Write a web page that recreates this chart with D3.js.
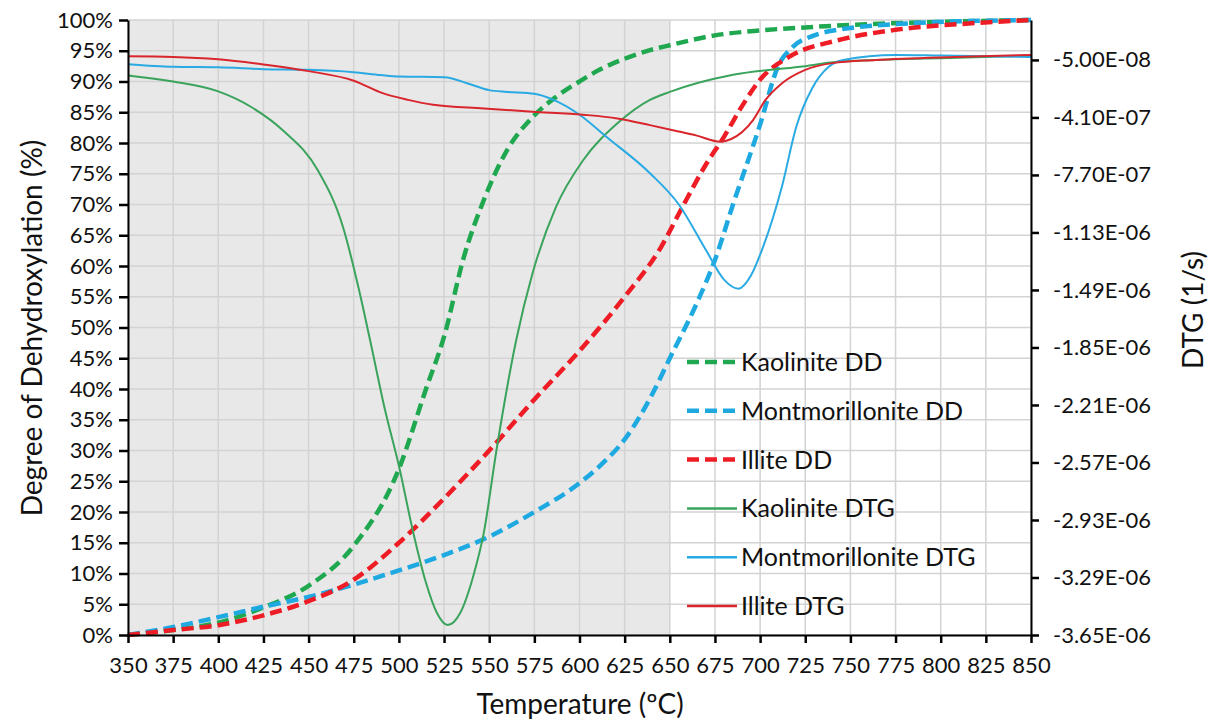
<!DOCTYPE html>
<html>
<head>
<meta charset="utf-8">
<script src="https://cdn.jsdelivr.net/npm/d3@7"></script>
<style>
  body { margin: 0; background: #fff; }
  text { font-family: Lato, "Open Sans", sans-serif; fill: #111; }
</style>
</head>
<body>
<div id="chart"></div>
<script>
// degree of dehydroxylation, fraction 0..1, [temperature, value]
const kaoliniteDD = [[350,0],[375,0.008],[400,0.02],[425,0.045],[450,0.08],[475,0.145],[500,0.27],[515,0.40],[525,0.485],[536,0.615],[547,0.707],[560,0.789],[574,0.842],[587,0.875],[600,0.90],[611,0.919],[625,0.937],[639,0.951],[650,0.959],[675,0.975],[700,0.983],[725,0.988],[750,0.992],[800,0.997],[850,1.0]];
const montDD = [[350,0],[375,0.013],[400,0.029],[425,0.046],[450,0.062],[475,0.082],[500,0.105],[525,0.13],[550,0.16],[575,0.20],[600,0.247],[612,0.277],[625,0.318],[640,0.39],[650,0.45],[665,0.54],[675,0.61],[685,0.70],[700,0.83],[710,0.925],[718,0.956],[730,0.975],[743,0.984],[786,0.995],[850,1.0]];
const illiteDD = [[350,0],[375,0.008],[400,0.016],[425,0.032],[450,0.055],[475,0.09],[500,0.15],[525,0.222],[550,0.30],[575,0.383],[600,0.462],[625,0.55],[645,0.63],[657,0.696],[670,0.765],[680,0.81],[690,0.86],[700,0.903],[716,0.94],[743,0.967],[775,0.984],[819,0.995],[850,1.0]];

// DTG in units of 1e-6 1/s
const kaoliniteDTG = [[350,-0.147],[375,-0.185],[400,-0.247],[418,-0.343],[436,-0.493],[455,-0.739],[469,-1.094],[478,-1.494],[484,-1.802],[492,-2.226],[500,-2.591],[508,-3.011],[515,-3.323],[521,-3.511],[527,-3.588],[534,-3.511],[541,-3.288],[547,-3.011],[554,-2.495],[565,-1.802],[574,-1.386],[587,-0.970],[602,-0.678],[621,-0.447],[639,-0.300],[650,-0.250],[685,-0.143],[722,-0.093],[743,-0.062],[775,-0.046],[800,-0.039],[850,-0.023]];
const montDTG = [[350,-0.077],[375,-0.093],[400,-0.096],[425,-0.108],[450,-0.112],[475,-0.127],[490,-0.145],[500,-0.154],[525,-0.158],[540,-0.204],[550,-0.239],[560,-0.250],[575,-0.262],[585,-0.297],[600,-0.393],[615,-0.532],[639,-0.759],[655,-0.955],[670,-1.240],[680,-1.425],[688,-1.482],[695,-1.398],[701,-1.240],[712,-0.847],[720,-0.470],[729,-0.224],[738,-0.093],[746,-0.050],[775,-0.019],[800,-0.023],[850,-0.031]];
const illiteDTG = [[350,-0.027],[375,-0.031],[400,-0.046],[425,-0.078],[450,-0.120],[475,-0.180],[491,-0.258],[505,-0.300],[519,-0.331],[547,-0.354],[574,-0.374],[602,-0.393],[621,-0.416],[639,-0.458],[653,-0.493],[665,-0.524],[678,-0.562],[684,-0.545],[696,-0.428],[703,-0.300],[712,-0.197],[725,-0.112],[740,-0.070],[764,-0.050],[808,-0.031],[850,-0.019]];

const xTicks = d3.range(350, 851, 25);
const leftTicks = d3.range(0, 1.0001, 0.05);
const rightTicks = d3.range(11).map(function(k) { return -3.65 + k * 0.36; });

const series = [
  { name: "Kaolinite DD", data: kaoliniteDD, axis: "L", color: "#1fa84f", dashed: true },
  { name: "Montmorillonite DD", data: montDD, axis: "L", color: "#1ea9e1", dashed: true },
  { name: "Illite DD", data: illiteDD, axis: "L", color: "#ee1c25", dashed: true },
  { name: "Kaolinite DTG", data: kaoliniteDTG, axis: "R", color: "#3aa35c", dashed: false },
  { name: "Montmorillonite DTG", data: montDTG, axis: "R", color: "#2aaae2", dashed: false },
  { name: "Illite DTG", data: illiteDTG, axis: "R", color: "#d9252c", dashed: false }
];

const width = 1217, height = 723;
const margin = { top: 20, right: 186, bottom: 88, left: 128 };

const svg = d3.select("#chart").append("svg")
  .attr("width", width)
  .attr("height", height);

const x = d3.scaleLinear().domain([350, 850]).range([margin.left, width - margin.right]);
const yL = d3.scaleLinear().domain([0, 1]).range([height - margin.bottom, margin.top]);
const yR = d3.scaleLinear().domain([-3.65, 0.2]).range([height - margin.bottom, margin.top]);

//gray shaded region 350-650
svg.append("rect")
  .attr("x", x(350))
  .attr("y", margin.top)
  .attr("width", x(650) - x(350))
  .attr("height", yL(0) - yL(1))
  .attr("fill", "#e8e8e8");

//grid
svg.append("g").selectAll("line")
  .data(xTicks)
  .enter().append("line")
  .attr("x1", function(d) { return x(d); })
  .attr("x2", function(d) { return x(d); })
  .attr("y1", yL(0))
  .attr("y2", yL(1))
  .attr("stroke", "#d3d3d3")
  .attr("stroke-width", 1.5);

svg.append("g").selectAll("line")
  .data(leftTicks)
  .enter().append("line")
  .attr("x1", x(350))
  .attr("x2", x(850))
  .attr("y1", function(d) { return yL(d); })
  .attr("y2", function(d) { return yL(d); })
  .attr("stroke", "#d3d3d3")
  .attr("stroke-width", 1.5);

//curves
series.forEach(function(s) {
  const yScale = s.axis === "L" ? yL : yR;
  const line = d3.line()
    .x(function(d) { return x(d[0]); })
    .y(function(d) { return yScale(d[1]); })
    .curve(d3.curveMonotoneX);
  svg.append("path")
    .datum(s.data)
    .attr("d", line)
    .attr("fill", "none")
    .attr("stroke", s.color)
    .attr("stroke-width", s.dashed ? 4.5 : 2)
    .attr("stroke-dasharray", s.dashed ? "12,6" : null);
});

//axes
function styleAxis(size) {
  return function(g) {
    g.select(".domain").attr("stroke", "#000").attr("stroke-width", 2);
    g.selectAll(".tick line").attr("stroke", "#000").attr("stroke-width", 2.5);
    g.selectAll(".tick text").style("font-size", size).attr("fill", "#111");
  };
}

svg.append("g")
  .attr("transform", "translate(0," + yL(0) + ")")
  .call(d3.axisBottom(x).tickValues(xTicks).tickSize(8).tickSizeOuter(0).tickPadding(14))
  .call(styleAxis("22px"));

svg.append("g")
  .attr("transform", "translate(" + x(350) + ",0)")
  .call(d3.axisLeft(yL).tickValues(leftTicks).tickSize(9).tickSizeOuter(0).tickPadding(6)
    .tickFormat(function(d) { return Math.round(d * 100) + "%"; }))
  .call(styleAxis("22px"));

function sciFormat(d) {
  const s = (d * 1e-6).toExponential(2).toUpperCase();
  return s.replace(/E([+-])(\d)$/, "E$10$2");
}

svg.append("g")
  .attr("transform", "translate(" + x(850) + ",0)")
  .call(d3.axisRight(yR).tickValues(rightTicks).tickSize(8).tickSizeOuter(0).tickPadding(14)
    .tickFormat(sciFormat))
  .call(styleAxis("22px"));

//axis titles
svg.append("text")
  .attr("x", 580)
  .attr("y", 714)
  .attr("text-anchor", "middle")
  .style("font-size", "28px")
  .text("Temperature (ºC)");

svg.append("text")
  .attr("transform", "rotate(-90)")
  .attr("x", -328)
  .attr("y", 42)
  .attr("text-anchor", "middle")
  .style("font-size", "28px")
  .text("Degree of Dehydroxylation (%)");

svg.append("text")
  .attr("transform", "rotate(-90)")
  .attr("x", -310)
  .attr("y", 1203)
  .attr("text-anchor", "middle")
  .style("font-size", "28px")
  .text("DTG (1/s)");

//legend
const legend = svg.append("g").attr("transform", "translate(687,362)");
series.forEach(function(s, i) {
  const row = legend.append("g").attr("transform", "translate(0," + (i * 48.8) + ")");
  row.append("line")
    .attr("x1", 0).attr("x2", 50)
    .attr("y1", 0).attr("y2", 0)
    .attr("stroke", s.color)
    .attr("stroke-width", s.dashed ? 4.5 : 2.5)
    .attr("stroke-dasharray", s.dashed ? "12,6" : null);
  row.append("text")
    .attr("x", 54)
    .attr("y", 0)
    .attr("dy", "0.36em")
    .style("font-size", "25px")
    .text(s.name);
});
</script>
</body>
</html>
